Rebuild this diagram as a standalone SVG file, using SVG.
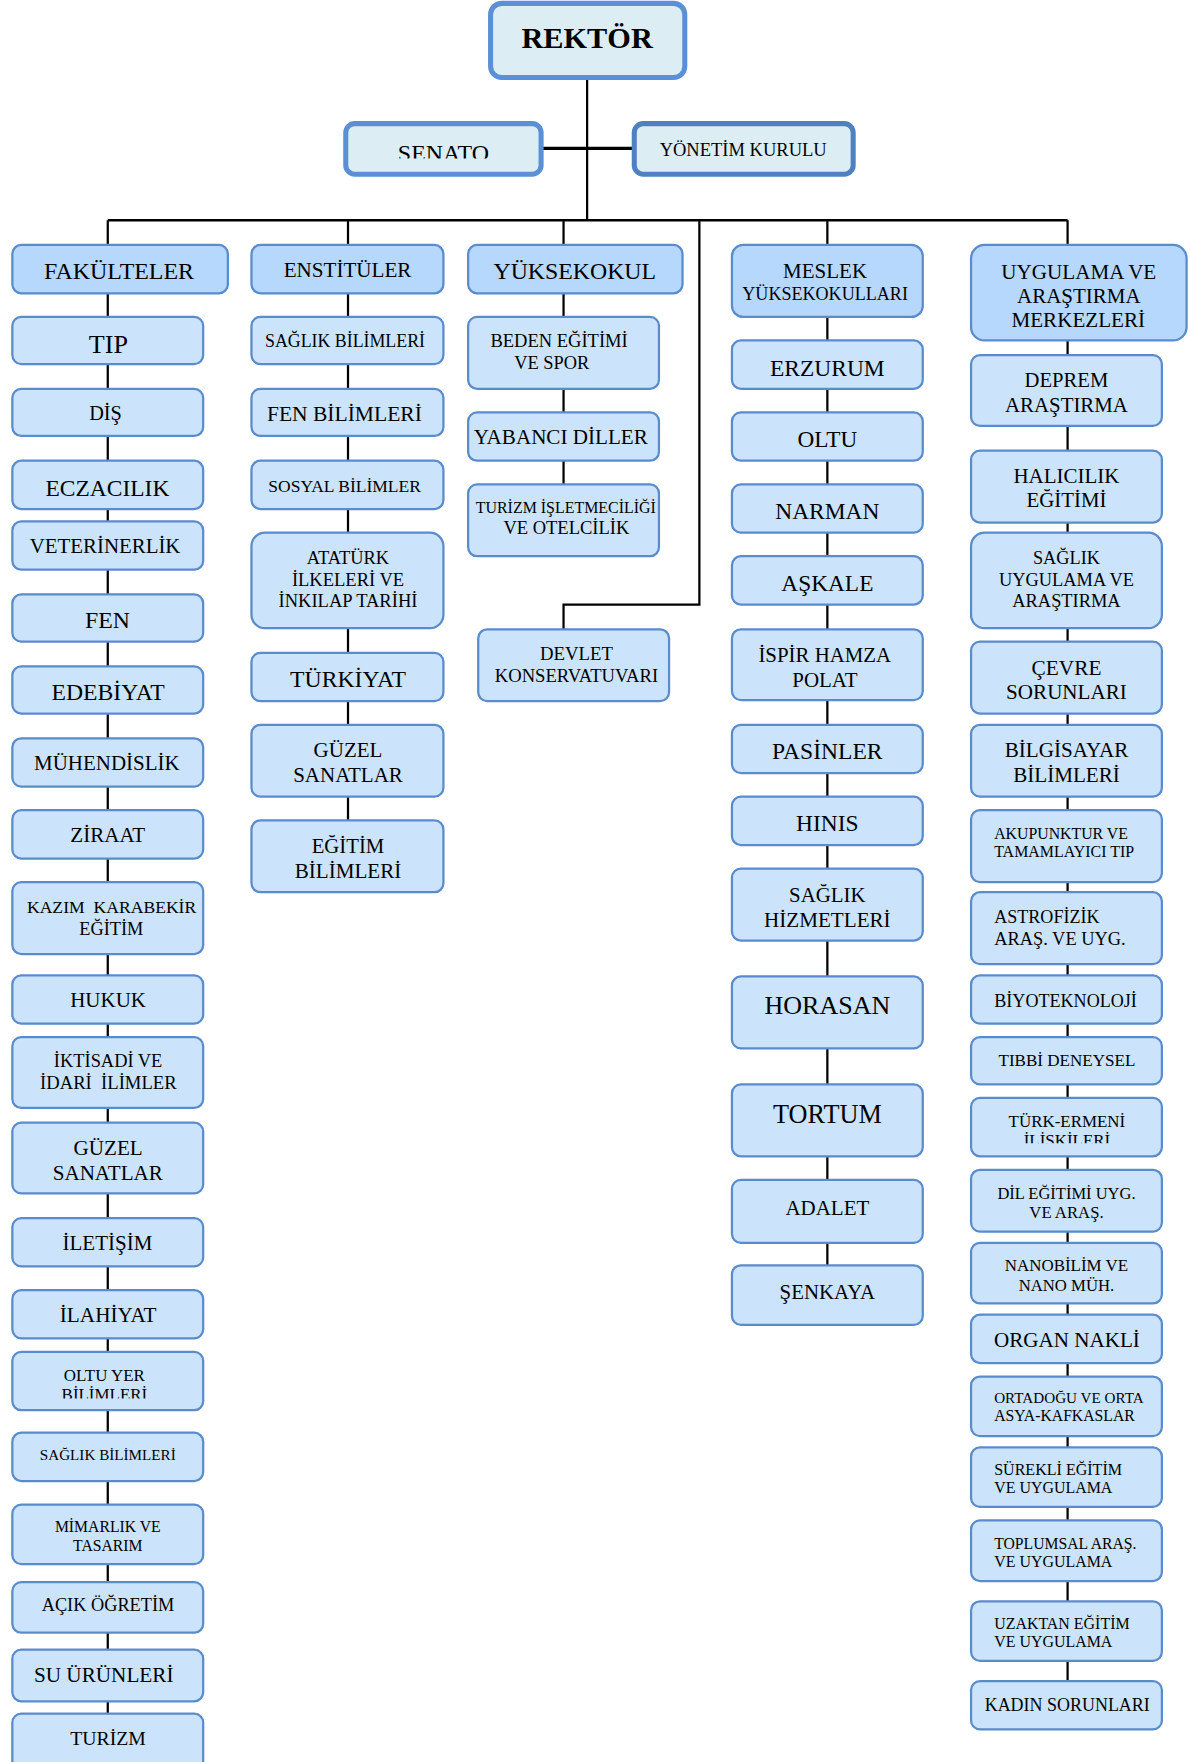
<svg xmlns="http://www.w3.org/2000/svg" width="1190" height="1762" viewBox="0 0 1190 1762">
<style>
text{font-family:"Liberation Serif","Times New Roman",serif;fill:#000;text-anchor:middle}
.l{text-anchor:start}
.b{fill:#cbe4fb;stroke:#5a8bcc;stroke-width:2}
.h{fill:#b5d8fc;stroke:#5a8bcc;stroke-width:2}
.t{fill:#dceef4;stroke:#5b8fd6;stroke-width:4.5}
.t2{fill:#dceef4;stroke:#4f80bf;stroke-width:4.5}
#connectors line,#connectors path{stroke:#000;stroke-width:2;fill:none}
</style>
<defs>
<clipPath id="cSen"><rect x="300" y="100" width="190" height="41"/></clipPath>
<clipPath id="cOltu"><rect x="0" y="1190" width="200" height="54.5"/></clipPath>
<clipPath id="cTurk"><rect x="860" y="970" width="200" height="47.5"/></clipPath>
</defs>
<rect x="0" y="0" width="1190" height="1762" fill="#fff"/>
<g transform="scale(1.1226,1.1237)">
<g id="connectors">
<line x1="523" y1="69" x2="523" y2="196"/>
<line x1="482" y1="132" x2="565" y2="132" style="stroke-width:3"/>
<line x1="96" y1="196" x2="951" y2="196" style="stroke-width:2.3"/>
<line x1="96" y1="196" x2="96" y2="218"/>
<line x1="310" y1="196" x2="310" y2="218"/>
<line x1="502" y1="196" x2="502" y2="218"/>
<path d="M623 196 V538 H502 V560"/>
<line x1="737" y1="196" x2="737" y2="218"/>
<line x1="951" y1="196" x2="951" y2="218"/>
<line x1="96" y1="261" x2="96" y2="1525"/>
<line x1="310" y1="261" x2="310" y2="730"/>
<line x1="502" y1="261" x2="502" y2="431"/>
<line x1="737" y1="282" x2="737" y2="1126"/>
<line x1="951" y1="303" x2="951" y2="1496"/>
</g>
<g id="n-rektor"><rect class="t" x="437" y="3" width="173" height="66" rx="10"/><text x="523" y="42.5" font-size="27" font-weight="bold">REKTÖR</text></g>
<g id="n-senato"><rect class="t" x="308" y="110" width="174" height="45" rx="8"/><text x="395" y="143.5" font-size="21.3" clip-path="url(#cSen)">SENATO</text></g>
<g id="n-yonetim"><rect class="t2" x="565" y="110" width="195" height="45" rx="8"/><text x="662" y="138.8" font-size="16.5">YÖNETİM KURULU</text></g>

<g id="n-fakulteler"><rect class="h" x="11" y="218" width="192" height="43" rx="8"/><text x="106" y="248.3" font-size="21.3">FAKÜLTELER</text></g>
<g id="n-tip"><rect class="b" x="11" y="282" width="170" height="42" rx="8"/><text x="96.5" y="314.4" font-size="23.3">TIP</text></g>
<g id="n-dis"><rect class="b" x="11" y="346" width="170" height="42" rx="8"/><text x="94" y="373.8" font-size="18.1">DİŞ</text></g>
<g id="n-eczacilik"><rect class="b" x="11" y="410" width="170" height="43" rx="8"/><text x="95.7" y="441.1" font-size="20.9">ECZACILIK</text></g>
<g id="n-veterinerlik"><rect class="b" x="11" y="464" width="170" height="43" rx="8"/><text x="93.6" y="492.4" font-size="18.6">VETERİNERLİK</text></g>
<g id="n-fen"><rect class="b" x="11" y="529" width="170" height="42" rx="8"/><text x="95.8" y="559.2" font-size="21.2">FEN</text></g>
<g id="n-edebiyat"><rect class="b" x="11" y="593" width="170" height="42" rx="8"/><text x="96.3" y="623" font-size="21.1">EDEBİYAT</text></g>
<g id="n-muhendislik"><rect class="b" x="11" y="657" width="170" height="43" rx="8"/><text x="95.2" y="685.2" font-size="18.7">MÜHENDİSLİK</text></g>
<g id="n-ziraat"><rect class="b" x="11" y="721" width="170" height="43" rx="8"/><text x="96" y="749.6" font-size="18.8">ZİRAAT</text></g>
<g id="n-kazim"><rect class="b" x="11" y="785" width="170" height="64" rx="8"/><text x="99.4" y="812.8" font-size="15.7" xml:space="preserve">KAZIM  KARABEKİR</text><text x="99.2" y="832.1" font-size="16.3">EĞİTİM</text></g>
<g id="n-hukuk"><rect class="b" x="11" y="868" width="170" height="43" rx="8"/><text x="96.3" y="895.8" font-size="18.7">HUKUK</text></g>
<g id="n-iktisadi"><rect class="b" x="11" y="923" width="170" height="63" rx="8"/><text x="96.3" y="949.3" font-size="16.4">İKTİSADİ VE</text><text x="96.5" y="968.8" font-size="16.6" xml:space="preserve">İDARİ  İLİMLER</text></g>
<g id="n-guzel1"><rect class="b" x="11" y="999" width="170" height="63" rx="8"/><text x="96.3" y="1027.9" font-size="18.8">GÜZEL</text><text x="96" y="1050.1" font-size="18.8">SANATLAR</text></g>
<g id="n-iletisim"><rect class="b" x="11" y="1084" width="170" height="43" rx="8"/><text x="95.7" y="1112.4" font-size="18.7">İLETİŞİM</text></g>
<g id="n-ilahiyat"><rect class="b" x="11" y="1148" width="170" height="43" rx="8"/><text x="96.3" y="1176.2" font-size="18.9">İLAHİYAT</text></g>
<g id="n-oltuyer"><rect class="b" x="11" y="1203" width="170" height="52" rx="8"/><g clip-path="url(#cOltu)"><text x="93" y="1229" font-size="15.1">OLTU YER</text><text x="93" y="1246" font-size="15.1">BİLİMLERİ</text></g></g>
<g id="n-saglik1"><rect class="b" x="11" y="1275" width="170" height="43" rx="8"/><text x="96" y="1299.3" font-size="13.5">SAĞLIK BİLİMLERİ</text></g>
<g id="n-mimarlik"><rect class="b" x="11" y="1339" width="170" height="53" rx="8"/><text x="96" y="1363.6" font-size="14">MİMARLIK VE</text><text x="96" y="1380" font-size="14">TASARIM</text></g>
<g id="n-acik"><rect class="b" x="11" y="1408" width="170" height="45" rx="8"/><text x="96.2" y="1433.7" font-size="16.3">AÇIK ÖĞRETİM</text></g>
<g id="n-su"><rect class="b" x="11" y="1468" width="170" height="46" rx="8"/><text x="92.4" y="1496.5" font-size="18.9">SU ÜRÜNLERİ</text></g>
<g id="n-turizm"><rect class="b" x="11" y="1525" width="170" height="60" rx="8"/><text x="96.2" y="1552.9" font-size="17.6">TURİZM</text></g>

<g id="n-enstituler"><rect class="h" x="224" y="218" width="171" height="43" rx="8"/><text x="309.6" y="246.2" font-size="18.8">ENSTİTÜLER</text></g>
<g id="n-saglik2"><rect class="b" x="224" y="282" width="171" height="42" rx="8"/><text x="307.3" y="308.5" font-size="15.9">SAĞLIK BİLİMLERİ</text></g>
<g id="n-fenbil"><rect class="b" x="224" y="346" width="171" height="42" rx="8"/><text x="306.8" y="374.4" font-size="19.2">FEN BİLİMLERİ</text></g>
<g id="n-sosyal"><rect class="b" x="224" y="410" width="171" height="43" rx="8"/><text x="307" y="438.1" font-size="15.6">SOSYAL BİLİMLER</text></g>
<g id="n-ataturk"><rect class="b" x="224" y="474" width="171" height="85" rx="12"/><text x="310" y="502.2" font-size="16.4">ATATÜRK</text><text x="310" y="521.5" font-size="16.5">İLKELERİ VE</text><text x="310" y="540.5" font-size="16.5">İNKILAP TARİHİ</text></g>
<g id="n-turkiyat"><rect class="b" x="224" y="581" width="171" height="43" rx="8"/><text x="310" y="611.1" font-size="21.1">TÜRKİYAT</text></g>
<g id="n-guzel2"><rect class="b" x="224" y="645" width="171" height="64" rx="8"/><text x="310" y="673.4" font-size="18.7">GÜZEL</text><text x="310" y="695.9" font-size="18.7">SANATLAR</text></g>
<g id="n-egitim"><rect class="b" x="224" y="730" width="171" height="64" rx="8"/><text x="310" y="758.8" font-size="18.5">EĞİTİM</text><text x="310" y="781.1" font-size="18.8">BİLİMLERİ</text></g>

<g id="n-yuksekokul"><rect class="h" x="417" y="218" width="191" height="43" rx="8"/><text x="512" y="248.6" font-size="21.2">YÜKSEKOKUL</text></g>
<g id="n-beden"><rect class="b" x="417" y="282" width="170" height="64" rx="8"/><text x="498" y="309.1" font-size="16.5">BEDEN EĞİTİMİ</text><text x="491.5" y="328.7" font-size="16.4">VE SPOR</text></g>
<g id="n-yabanci"><rect class="b" x="417" y="367" width="170" height="43" rx="8"/><text x="499.5" y="395.4" font-size="18.8">YABANCI DİLLER</text></g>
<g id="n-turizmisl"><rect class="b" x="417" y="431" width="170" height="64" rx="8"/><text x="504" y="456.2" font-size="14.2">TURİZM İŞLETMECİLİĞİ</text><text x="504.5" y="475.5" font-size="16.5">VE OTELCİLİK</text></g>
<g id="n-devlet"><rect class="b" x="426" y="560" width="170" height="64" rx="8"/><text x="513.5" y="587.3" font-size="16.7">DEVLET</text><text x="513.5" y="606.6" font-size="16.6">KONSERVATUVARI</text></g>

<g id="n-meslek"><rect class="h" x="652" y="218" width="170" height="64" rx="10"/><text x="735" y="247.7" font-size="18.7">MESLEK</text><text x="735" y="267" font-size="16.1">YÜKSEKOKULLARI</text></g>
<g id="n-erzurum"><rect class="b" x="652" y="303" width="170" height="43" rx="8"/><text x="737" y="334.3" font-size="20.9">ERZURUM</text></g>
<g id="n-oltu"><rect class="b" x="652" y="367" width="170" height="43" rx="8"/><text x="737" y="398.1" font-size="20.7">OLTU</text></g>
<g id="n-narman"><rect class="b" x="652" y="431" width="170" height="43" rx="8"/><text x="737" y="461.9" font-size="20.9">NARMAN</text></g>
<g id="n-askale"><rect class="b" x="652" y="495" width="170" height="43" rx="8"/><text x="737" y="526.2" font-size="20.8">AŞKALE</text></g>
<g id="n-ispir"><rect class="b" x="652" y="560" width="170" height="63" rx="8"/><text x="734.7" y="588.8" font-size="18.6">İSPİR HAMZA</text><text x="734.8" y="611.1" font-size="18.7">POLAT</text></g>
<g id="n-pasinler"><rect class="b" x="652" y="645" width="170" height="43" rx="8"/><text x="737" y="675.7" font-size="21">PASİNLER</text></g>
<g id="n-hinis"><rect class="b" x="652" y="709" width="170" height="43" rx="8"/><text x="737" y="739.8" font-size="20.9">HINIS</text></g>
<g id="n-saglikhiz"><rect class="b" x="652" y="773" width="170" height="64" rx="8"/><text x="737" y="802.4" font-size="18.6">SAĞLIK</text><text x="737" y="824.7" font-size="18.8">HİZMETLERİ</text></g>
<g id="n-horasan"><rect class="b" x="652" y="869" width="170" height="64" rx="8"/><text x="737" y="902.4" font-size="23.2">HORASAN</text></g>
<g id="n-tortum"><rect class="b" x="652" y="965" width="170" height="64" rx="8"/><text x="737" y="999.7" font-size="23.4">TORTUM</text></g>
<g id="n-adalet"><rect class="b" x="652" y="1050" width="170" height="56" rx="8"/><text x="737" y="1081.3" font-size="18.7">ADALET</text></g>
<g id="n-senkaya"><rect class="b" x="652" y="1126" width="170" height="53" rx="8"/><text x="737" y="1156.3" font-size="18.6">ŞENKAYA</text></g>

<g id="n-uygulama"><rect class="h" x="865" y="218" width="192" height="85" rx="12"/><text x="961" y="248.3" font-size="18.8">UYGULAMA VE</text><text x="961" y="269.9" font-size="18.7">ARAŞTIRMA</text><text x="960.5" y="291.3" font-size="18.8">MERKEZLERİ</text></g>
<g id="n-deprem"><rect class="b" x="865" y="316" width="170" height="63" rx="8"/><text x="950" y="344.7" font-size="18.4">DEPREM</text><text x="950" y="366.4" font-size="18.6">ARAŞTIRMA</text></g>
<g id="n-halicilik"><rect class="b" x="865" y="401" width="170" height="64" rx="8"/><text x="950" y="430.1" font-size="18.7">HALICILIK</text><text x="950" y="451.5" font-size="18.6">EĞİTİMİ</text></g>
<g id="n-saglikuyg"><rect class="b" x="865" y="474" width="170" height="85" rx="12"/><text x="950" y="502.2" font-size="16.3">SAĞLIK</text><text x="950" y="521.5" font-size="16.4">UYGULAMA VE</text><text x="950" y="540.5" font-size="16.4">ARAŞTIRMA</text></g>
<g id="n-cevre"><rect class="b" x="865" y="571" width="170" height="64" rx="8"/><text x="950" y="600.7" font-size="19">ÇEVRE</text><text x="950" y="622.3" font-size="18.8">SORUNLARI</text></g>
<g id="n-bilgisayar"><rect class="b" x="865" y="645" width="170" height="64" rx="8"/><text x="950" y="674" font-size="18.8">BİLGİSAYAR</text><text x="950" y="696.2" font-size="18.8">BİLİMLERİ</text></g>
<g id="n-akupunktur"><rect class="b" x="865" y="721" width="170" height="64" rx="8"/><text class="l" x="885.6" y="747" font-size="14.1">AKUPUNKTUR VE</text><text class="l" x="885.6" y="763" font-size="14.2">TAMAMLAYICI TIP</text></g>
<g id="n-astrofizik"><rect class="b" x="865" y="794" width="170" height="64" rx="8"/><text class="l" x="885.6" y="821.7" font-size="16.1">ASTROFİZİK</text><text class="l" x="885.6" y="841" font-size="16.4">ARAŞ. VE UYG.</text></g>
<g id="n-biyotek"><rect class="b" x="865" y="868" width="170" height="43" rx="8"/><text x="949.2" y="895.8" font-size="16.1">BİYOTEKNOLOJİ</text></g>
<g id="n-tibbi"><rect class="b" x="865" y="923" width="170" height="42" rx="8"/><text x="950.4" y="948.4" font-size="15.2">TIBBİ DENEYSEL</text></g>
<g id="n-turkermeni"><rect class="b" x="865" y="977" width="170" height="52" rx="8"/><g clip-path="url(#cTurk)"><text x="950.4" y="1003.2" font-size="15.1">TÜRK-ERMENİ</text><text x="950.4" y="1019.5" font-size="15.1">İLİŞKİLERİ</text></g></g>
<g id="n-dil"><rect class="b" x="865" y="1041" width="170" height="55" rx="8"/><text x="950" y="1067" font-size="14.7">DİL EĞİTİMİ UYG.</text><text x="950" y="1084.2" font-size="14.9">VE ARAŞ.</text></g>
<g id="n-nano"><rect class="b" x="865" y="1106" width="170" height="54" rx="8"/><text x="950" y="1131.1" font-size="15.1">NANOBİLİM VE</text><text x="950" y="1148.9" font-size="14.9">NANO MÜH.</text></g>
<g id="n-organ"><rect class="b" x="865" y="1170" width="170" height="43" rx="8"/><text x="950.4" y="1198.4" font-size="18.8">ORGAN NAKLİ</text></g>
<g id="n-ortadogu"><rect class="b" x="865" y="1225" width="170" height="53" rx="8"/><text class="l" x="885.6" y="1248.8" font-size="13.5">ORTADOĞU VE ORTA</text><text class="l" x="885.6" y="1264.3" font-size="14">ASYA-KAFKASLAR</text></g>
<g id="n-surekli"><rect class="b" x="865" y="1288" width="170" height="53" rx="8"/><text class="l" x="885.6" y="1312.6" font-size="14.3">SÜREKLİ EĞİTİM</text><text class="l" x="885.6" y="1328.3" font-size="14.2">VE UYGULAMA</text></g>
<g id="n-toplumsal"><rect class="b" x="865" y="1353" width="170" height="54" rx="8"/><text class="l" x="885.6" y="1378.5" font-size="14">TOPLUMSAL ARAŞ.</text><text class="l" x="885.6" y="1394.2" font-size="14.2">VE UYGULAMA</text></g>
<g id="n-uzaktan"><rect class="b" x="865" y="1425" width="170" height="53" rx="8"/><text class="l" x="885.6" y="1450" font-size="14.2">UZAKTAN EĞİTİM</text><text class="l" x="885.6" y="1465.4" font-size="14.2">VE UYGULAMA</text></g>
<g id="n-kadin"><rect class="b" x="865" y="1496" width="170" height="43" rx="8"/><text x="950.7" y="1522.4" font-size="16">KADIN SORUNLARI</text></g>
</g>
</svg>
